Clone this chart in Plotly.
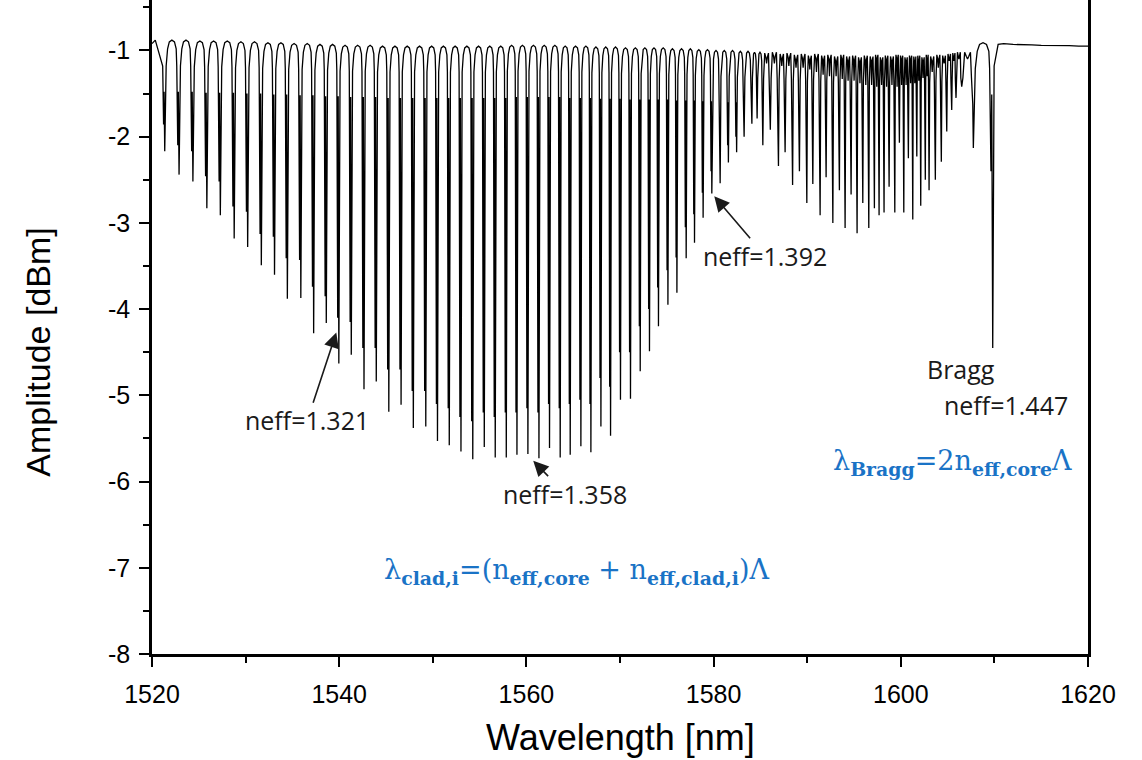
import plotly.graph_objects as go

# ---------------- data ----------------
# dip centre wavelength [nm]
dip_wl = [1521.36, 1522.89, 1524.37, 1525.86, 1527.30, 1528.78, 1530.22, 1531.68, 1533.09, 1534.46,
          1535.90, 1537.27, 1538.62, 1539.96, 1541.29, 1542.65, 1543.96, 1545.30, 1546.61, 1547.92,
          1549.25, 1550.50, 1551.76, 1553.01, 1554.27, 1555.50, 1556.67, 1557.85, 1558.99, 1560.16,
          1561.34, 1562.47, 1563.61, 1564.68, 1565.82, 1566.89, 1567.96, 1568.99, 1570.05, 1571.12,
          1572.16, 1573.15, 1574.11, 1575.12, 1576.08, 1577.07, 1577.96, 1578.88, 1579.81, 1580.70,
          1581.58, 1582.46, 1583.26, 1584.09, 1584.65, 1585.26, 1586.06, 1586.93, 1587.64, 1588.44,
          1589.17, 1589.96, 1590.60, 1591.38, 1592.02, 1592.74, 1593.44, 1594.05, 1594.69, 1595.33,
          1595.94, 1596.58, 1597.18, 1597.68, 1598.21, 1598.75, 1599.36, 1599.85, 1600.32, 1600.81,
          1601.28, 1601.71, 1602.13, 1602.62, 1603.02, 1603.69, 1604.33, 1604.91, 1605.44, 1605.90,
          1606.51, 1607.75, 1609.82]
# dip minimum [dBm]
dip_amp = [-2.17, -2.44, -2.52, -2.83, -2.91, -3.18, -3.28, -3.49, -3.60, -3.88,
           -3.87, -4.28, -4.16, -4.63, -4.53, -4.93, -4.84, -5.19, -5.11, -5.38,
           -5.36, -5.53, -5.58, -5.65, -5.74, -5.60, -5.72, -5.72, -5.69, -5.68,
           -5.73, -5.61, -5.72, -5.69, -5.59, -5.66, -5.36, -5.47, -5.05, -5.04,
           -4.72, -4.49, -4.20, -3.95, -3.81, -3.41, -3.23, -2.94, -2.66, -2.54,
           -2.30, -2.18, -2.00, -1.85, -1.79, -2.10, -1.92, -2.34, -2.18, -2.56,
           -2.40, -2.77, -2.55, -2.91, -2.47, -3.00, -2.62, -3.06, -2.67, -3.12,
           -2.77, -3.06, -2.83, -2.91, -2.88, -2.58, -2.88, -2.07, -2.88, -2.25,
           -2.96, -2.23, -2.80, -2.50, -2.62, -2.50, -2.29, -1.94, -1.69, -1.55,
           -1.42, -2.13, -4.45]
# shallower partner dip just left of each dip (None = not resolved)
pair_amp = [-1.86, -2.10, -2.17, -2.46, -2.52, -2.81, -2.87, -3.13, -3.16, -3.41,
            -3.43, -3.74, -3.85, -4.10, -4.15, -4.45, -4.45, -4.70, -4.70, -4.95,
            -4.95, -5.10, -5.15, -5.25, -5.30, -5.20, -5.25, -5.20, -5.20, -5.15,
            -5.20, -5.10, -5.15, -5.10, -5.05, -5.10, -4.80, -4.90, -4.50, -4.50,
            -4.20, -4.00, -3.75, -3.55, -3.40, -3.05, -2.90, -2.65, -2.40, -2.30,
            -2.10, -2.00, -1.85, -1.70, None, None, None, None, None, None,
            None, None, None, None, None, None, None, None, None, None,
            None, None, None, None, None, None, None, None, None, None,
            None, None, None, None, None, None, None, None, None, None,
            None, -1.60, -2.40]
# top of the transmission arch after each dip [dBm]
top_amp = [-0.88, -0.88, -0.89, -0.89, -0.89, -0.90, -0.90, -0.91, -0.91, -0.92,
           -0.92, -0.93, -0.93, -0.94, -0.94, -0.94, -0.95, -0.95, -0.95, -0.95,
           -0.95, -0.95, -0.95, -0.95, -0.95, -0.95, -0.95, -0.94, -0.94, -0.94,
           -0.94, -0.94, -0.95, -0.95, -0.95, -0.96, -0.96, -0.96, -0.97, -0.97,
           -0.97, -0.97, -0.97, -0.98, -0.98, -0.98, -0.99, -0.99, -1.00, -1.00,
           -1.00, -1.01, -1.01, -1.02, -1.02, -1.03, -1.02, -1.04, -1.03, -1.05,
           -1.04, -1.06, -1.04, -1.06, -1.05, -1.07, -1.05, -1.07, -1.06, -1.08,
           -1.06, -1.07, -1.05, -1.08, -1.06, -1.07, -1.05, -1.06, -1.08, -1.06,
           -1.07, -1.06, -1.08, -1.05, -1.07, -1.05, -1.06, -1.04, -1.03, -1.02,
           -1.02, -0.91, -0.93]
# small notch inside the arch after each dip (None = clean arch)
notch_amp = [None] * 55 + [-1.15, -1.15, -1.18, -1.18, -1.20, -1.20, -1.22,
                           -1.25, -1.28, -1.30, -1.30, -1.33, -1.35, -1.35, -1.38,
                           -1.40, -1.40, -1.42, -1.40, -1.42, -1.40, -1.42, -1.40,
                           -1.40, -1.38, -1.38, -1.35, -1.32, -1.30, -1.25, -1.20,
                           -1.15, -1.12, -1.12, -1.10, -1.10, None, None]
# start of trace and flat tail after the Bragg dip
head_wl = [1520.00, 1520.35]
head_amp = [-0.92, -0.88]
tail_wl = [1610.4, 1611.0, 1612.0, 1613.0, 1614.0, 1615.0, 1616.0, 1617.0, 1618.0, 1619.0, 1620.0]
tail_amp = [-0.93, -0.92, -0.93, -0.93, -0.935, -0.94, -0.94, -0.945, -0.945, -0.95, -0.95]

x_ticks = [1520, 1540, 1560, 1580, 1600, 1620]
x_ticktext = ["1520", "1540", "1560", "1580", "1600", "1620"]
y_ticks = [-1, -2, -3, -4, -5, -6, -7, -8]
y_ticktext = ["-1", "-2", "-3", "-4", "-5", "-6", "-7", "-8"]

# ---------------- build the spectrum polyline ----------------
xs, ys = list(head_wl), list(head_amp)
n = len(dip_wl)
for i in range(n):
    lam = dip_wl[i]
    prev = dip_wl[i - 1] if i > 0 else head_wl[0]
    gl = lam - prev
    tl = top_amp[i - 1] if i > 0 else head_amp[-1]
    xs.append(lam - 0.16 * gl); ys.append(tl - 0.30)
    if pair_amp[i] is not None:
        xs.append(lam - 0.09 * gl); ys.append(pair_amp[i])
        xs.append(lam - 0.05 * gl); ys.append(tl - 0.60)
    xs.append(lam); ys.append(dip_amp[i])
    if i < n - 1:
        g = dip_wl[i + 1] - lam
        t = top_amp[i]
        xs.append(lam + 0.10 * g); ys.append(t - 0.30)
        if notch_amp[i] is None:
            for f, d in [(0.20, 0.10), (0.32, 0.02), (0.50, 0.0), (0.68, 0.02), (0.80, 0.10)]:
                xs.append(lam + f * g); ys.append(t - d)
        else:
            for f, v in [(0.25, t), (0.40, t - 0.05), (0.50, notch_amp[i]), (0.60, t - 0.05), (0.75, t)]:
                xs.append(lam + f * g); ys.append(v)
    else:
        xs.append(lam + 0.15); ys.append(top_amp[i] - 0.25)
xs += tail_wl
ys += tail_amp

fig = go.Figure()
fig.add_trace(go.Scatter(x=xs, y=ys, mode="lines",
                         line=dict(color="#000000", width=1.3), showlegend=False,
                         hoverinfo="skip"))

# ---------------- annotations ----------------
txt_font = dict(family="Open Sans", size=25, color="#1a1a1a")
arrows = [
    # text, text centre x, text centre y, arrow tip x, arrow tip y
    ("neff=1.321", 1536.6, -5.29, 1539.69, -4.27),
    ("neff=1.358", 1564.15, -6.14, 1560.73, -5.76),
    ("neff=1.392", 1585.5, -3.38, 1580.07, -2.69),
]
for t, tx, ty, hx, hy in arrows:
    fig.add_annotation(x=hx, y=hy, ax=tx, ay=ty, xref="x", yref="y", axref="x", ayref="y",
                       text=t, font=txt_font, showarrow=True, arrowhead=2, arrowsize=1.9,
                       arrowwidth=1.6, arrowcolor="#1a1a1a", standoff=0, borderpad=0)
fig.add_annotation(x=1606.44, y=-4.69, text="Bragg", showarrow=False, font=txt_font)
fig.add_annotation(x=1611.24, y=-5.11, text="neff=1.447", showarrow=False, font=txt_font)

blue = "#1a73c6"
ffont = dict(family="DejaVu Serif", size=27, color=blue)
fig.add_annotation(x=1605.5, y=-5.78, showarrow=False, font=ffont,
                   text="λ<sub><b>Bragg</b></sub>=2n<sub><b>eff,core</b></sub>Λ")
fig.add_annotation(x=1565.3, y=-7.04, showarrow=False, font=ffont,
                   text="λ<sub><b>clad,i</b></sub>=(n<sub><b>eff,core</b></sub> + n<sub><b>eff,clad,i</b></sub>)Λ")

# axis titles
fig.add_annotation(x=0.5, y=-0.128, xref="paper", yref="paper", showarrow=False,
                   text="Wavelength [nm]", font=dict(family="Liberation Sans", size=36, color="black"),
                   xanchor="center", yanchor="middle")
fig.add_annotation(x=-0.122, y=0.462, xref="paper", yref="paper", showarrow=False, textangle=-90,
                   text="Amplitude [dBm]", font=dict(family="Liberation Sans", size=34, color="black"),
                   xanchor="center", yanchor="middle")

axis_common = dict(showline=True, linewidth=2.5, linecolor="black", ticks="outside",
                   ticklen=10, tickwidth=2, tickcolor="black", showgrid=False, zeroline=False,
                   tickfont=dict(family="Liberation Sans", size=25, color="black"))
fig.update_layout(
    width=1142, height=760,
    margin=dict(l=152, r=54, t=0, b=105.5),
    paper_bgcolor="white", plot_bgcolor="white",
    xaxis=dict(range=[1520, 1620], tickvals=x_ticks, ticktext=x_ticktext, mirror=False,
               minor=dict(dtick=10, ticks="outside", ticklen=6, tickwidth=2, tickcolor="black"),
               ticklabelstandoff=6, **axis_common),
    yaxis=dict(range=[-8, -0.4147], tickvals=y_ticks, ticktext=y_ticktext, mirror=True,
               minor=dict(dtick=0.5, ticks="outside", ticklen=6, tickwidth=2, tickcolor="black"),
               ticklabelstandoff=4, **axis_common),
)
fig.write_html("out.html")
